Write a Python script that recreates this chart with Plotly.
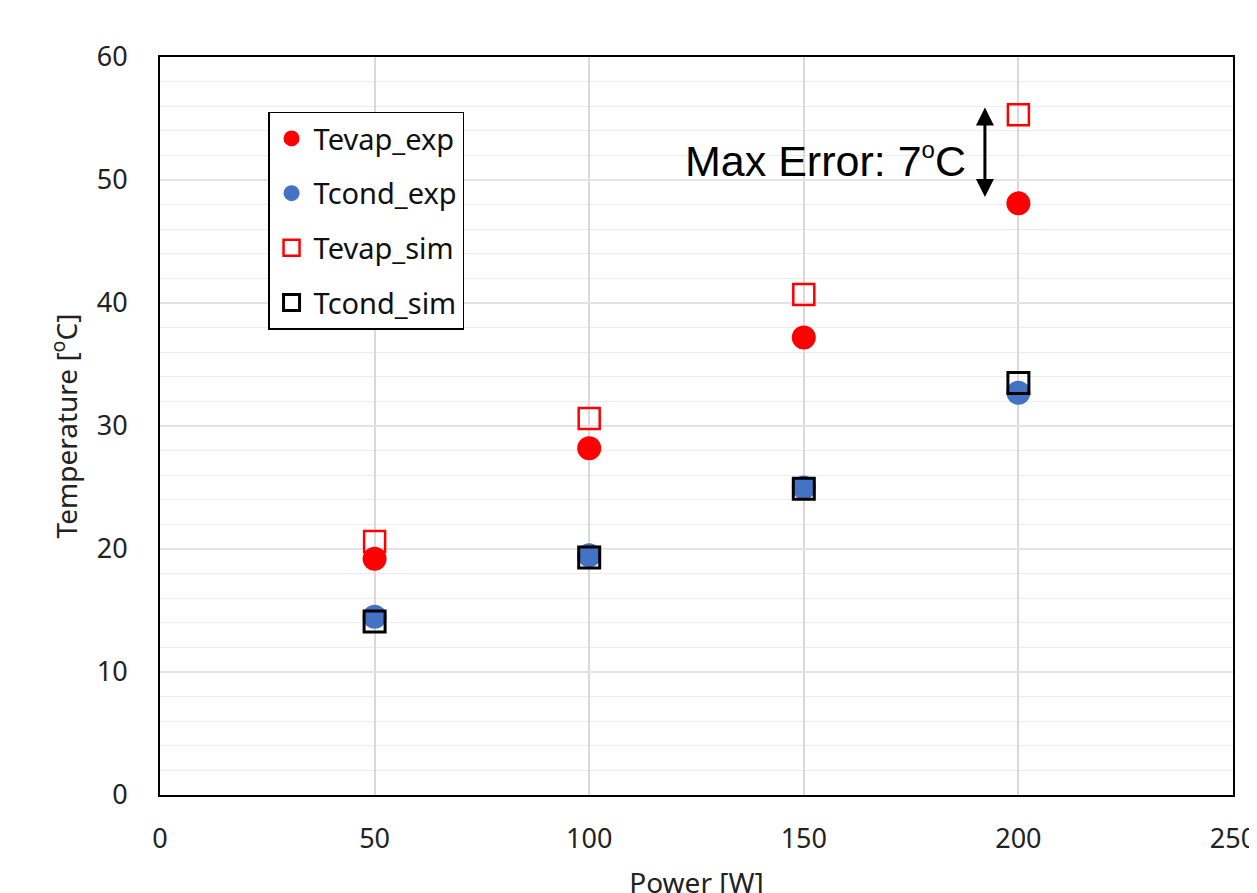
import plotly.graph_objects as go

power = [50, 100, 150, 200]
tevap_exp = [19.2, 28.2, 37.2, 48.1]
tcond_exp = [14.5, 19.5, 25.0, 32.7]
tevap_sim = [20.6, 30.6, 40.7, 55.3]
tcond_sim = [14.1, 19.3, 24.9, 33.5]

x_ticks = [0, 50, 100, 150, 200, 250]
y_ticks = [0, 10, 20, 30, 40, 50, 60]

FONT = "Noto Sans"

fig = go.Figure()
fig.add_trace(go.Scatter(x=power, y=tevap_exp, mode="markers", name="Tevap_exp",
                         legendgroup="a",
                         marker=dict(symbol="circle", size=24, color="#ff0000", line=dict(width=0))))
fig.add_trace(go.Scatter(x=power, y=tcond_exp, mode="markers", name="Tcond_exp",
                         legendgroup="b",
                         marker=dict(symbol="circle", size=24, color="#4472c4", line=dict(width=0))))
fig.add_trace(go.Scatter(x=power, y=tevap_sim, mode="markers", name="Tevap_sim",
                         legendgroup="c",
                         marker=dict(symbol="square-open", size=21, color="#ff0000", line=dict(width=2.5))))
fig.add_trace(go.Scatter(x=power, y=tcond_sim, mode="markers", name="Tcond_sim",
                         legendgroup="d",
                         marker=dict(symbol="square-open", size=21, color="#000000", line=dict(width=3))))

# double-headed arrow
fig.add_annotation(x=192.2, y=55.9, ax=192.2, ay=48.5, xref="x", yref="y", axref="x", ayref="y",
                   text="", showarrow=True, arrowhead=2, arrowsize=1.2, arrowwidth=3,
                   arrowside="end+start", arrowcolor="black")
fig.add_annotation(x=155.1, y=51.6, xref="x", yref="y", showarrow=False,
                   text="Max Error: 7<sup><span style='font-size:24px'>o</span></sup>C",
                   font=dict(family="Liberation Sans", size=43, color="black"))

fig.update_layout(
    width=1257, height=893,
    margin=dict(l=152, r=32, t=49, b=106),
    paper_bgcolor="white", plot_bgcolor="white",
    font=dict(family=FONT, size=28, color="#222222"),
    showlegend=True,
    legend=dict(x=0.1007, y=0.926, xanchor="left", yanchor="top",
                bgcolor="white", bordercolor="black", borderwidth=1.5,
                font=dict(family=FONT, size=29, color="#111111"),
                tracegroupgap=14, itemwidth=34),
)
fig.update_xaxes(range=[0, 250], tickvals=x_ticks, showgrid=True, gridcolor="#d9d9d9", gridwidth=1.5,
                 showline=True, linecolor="black", linewidth=2, mirror=True, zeroline=False,
                 ticks="", ticklabelstandoff=19, automargin=False,
                 tickfont=dict(size=27),
                 title=dict(text="Power [W]", standoff=30, font=dict(size=28)))
fig.update_yaxes(range=[0, 60], tickvals=y_ticks, showgrid=True, gridcolor="#e3e3e3", gridwidth=1.5,
                 minor=dict(dtick=2, showgrid=True, gridcolor="#ececec", gridwidth=1.2),
                 showline=True, linecolor="black", linewidth=2, mirror=True, zeroline=False,
                 ticks="", ticklabelstandoff=25, automargin=False,
                 tickfont=dict(size=27),
                 title=dict(text="Temperature [<sup>o</sup>C]", standoff=11, font=dict(size=28)))

fig.write_html("out.html")
